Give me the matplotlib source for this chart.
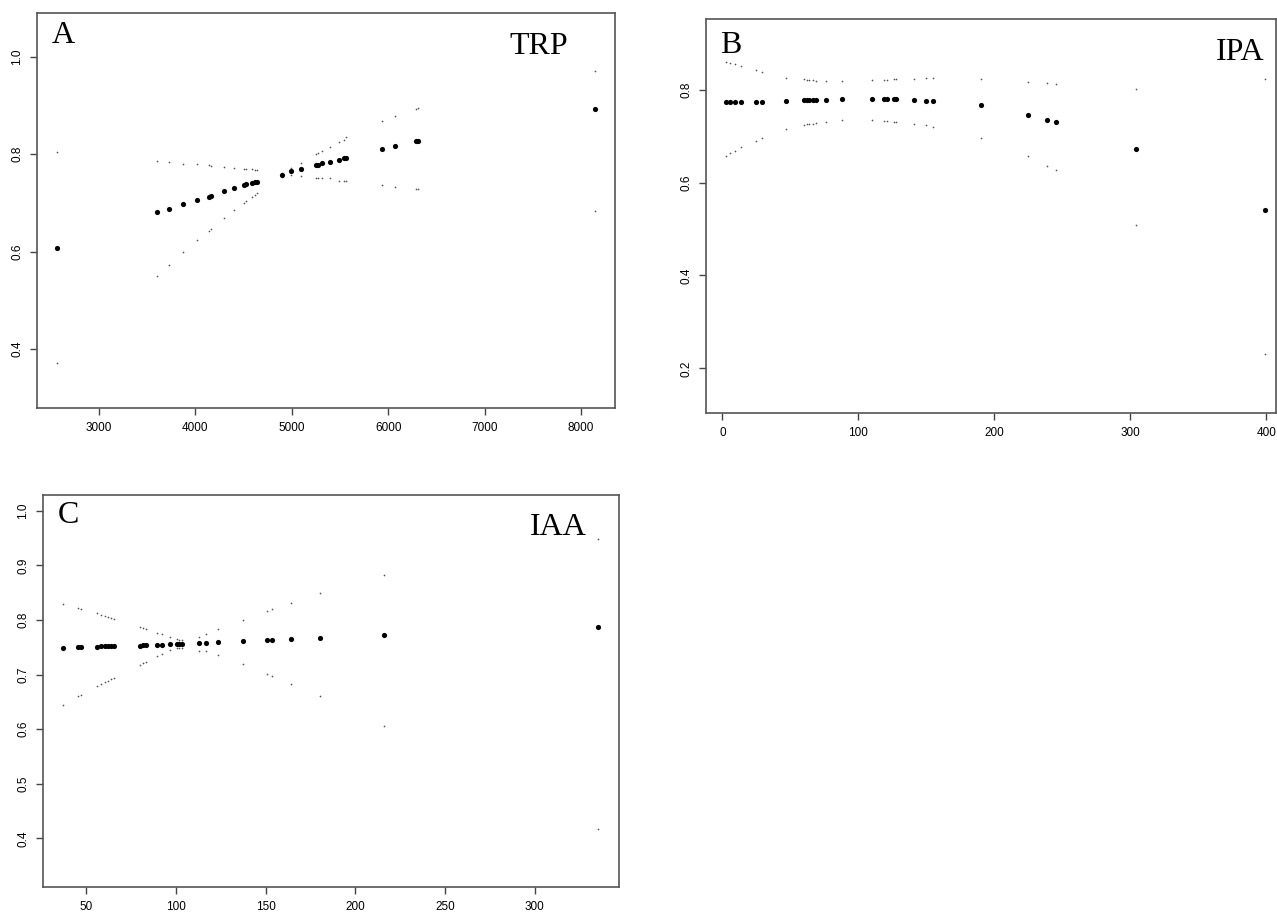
import matplotlib
matplotlib.use("Agg")
import matplotlib.pyplot as plt

# Panel A - TRP
trp_x = [2560, 3599, 3723, 3876, 4017, 4139, 4159, 4294, 4398, 4502, 4523, 4588, 4616, 4634,
         4896, 4993, 5097, 5249, 5267, 5314, 5391, 5485, 5537, 5557, 5934, 6069, 6287, 6305, 8143]
trp_mean = [0.608, 0.681, 0.688, 0.698, 0.707, 0.713, 0.715, 0.724, 0.730, 0.736, 0.738, 0.741, 0.743, 0.743,
            0.758, 0.765, 0.769, 0.777, 0.778, 0.781, 0.784, 0.789, 0.792, 0.792, 0.811, 0.817, 0.827, 0.827, 0.893]
trp_upper = [0.805, 0.786, 0.785, 0.780, 0.779, 0.777, 0.776, 0.774, 0.772, 0.770, 0.769, 0.769, 0.768, 0.768,
             0.762, 0.772, 0.781, 0.801, 0.803, 0.806, 0.815, 0.825, 0.830, 0.835, 0.869, 0.878, 0.893, 0.895, 0.971]
trp_lower = [0.371, 0.550, 0.573, 0.600, 0.623, 0.642, 0.646, 0.670, 0.685, 0.700, 0.704, 0.713, 0.717, 0.720,
             0.754, 0.757, 0.756, 0.752, 0.752, 0.751, 0.751, 0.746, 0.745, 0.745, 0.736, 0.732, 0.728, 0.728, 0.684]

# Panel B - IPA
ipa_x = [3, 6, 9, 14, 25, 29, 47, 60, 62, 64, 67, 69, 76, 88, 110, 119, 121, 126, 128, 141, 150, 155,
         190, 225, 239, 245, 304, 399]
ipa_mean = [0.773, 0.773, 0.773, 0.773, 0.774, 0.774, 0.775, 0.777, 0.777, 0.777, 0.777, 0.777, 0.777, 0.779,
            0.779, 0.779, 0.779, 0.779, 0.779, 0.777, 0.776, 0.775, 0.766, 0.746, 0.734, 0.730, 0.672, 0.540]
ipa_upper = [0.859, 0.857, 0.855, 0.851, 0.842, 0.839, 0.826, 0.822, 0.821, 0.821, 0.821, 0.819, 0.819, 0.819,
             0.821, 0.821, 0.821, 0.822, 0.822, 0.822, 0.824, 0.824, 0.822, 0.817, 0.814, 0.813, 0.802, 0.822]
ipa_lower = [0.658, 0.664, 0.667, 0.676, 0.690, 0.695, 0.715, 0.724, 0.725, 0.725, 0.727, 0.728, 0.731, 0.735,
             0.735, 0.733, 0.733, 0.731, 0.731, 0.727, 0.723, 0.720, 0.695, 0.658, 0.636, 0.628, 0.509, 0.230]

# Panel C - IAA
iaa_x = [37.3, 45.7, 47.4, 56.1, 58.4, 60.4, 62, 63.9, 65.4, 79.9, 81.6, 83.4, 89.6, 92.2, 96.6, 100.7,
         102, 103.5, 113.2, 116.9, 123.7, 137.5, 150.9, 153.7, 164.4, 180.2, 216.1, 335.4]
iaa_mean = [0.749, 0.750, 0.751, 0.751, 0.752, 0.752, 0.752, 0.752, 0.752, 0.753, 0.754, 0.754, 0.755, 0.755,
            0.756, 0.756, 0.756, 0.756, 0.758, 0.758, 0.760, 0.762, 0.764, 0.764, 0.766, 0.767, 0.772, 0.788]
iaa_upper = [0.829, 0.822, 0.821, 0.812, 0.810, 0.808, 0.806, 0.804, 0.802, 0.788, 0.786, 0.783, 0.777, 0.774,
             0.769, 0.765, 0.764, 0.763, 0.769, 0.774, 0.783, 0.800, 0.817, 0.821, 0.832, 0.849, 0.882, 0.949]
iaa_lower = [0.645, 0.660, 0.663, 0.679, 0.682, 0.686, 0.689, 0.692, 0.694, 0.717, 0.721, 0.724, 0.735, 0.738,
             0.745, 0.748, 0.748, 0.748, 0.744, 0.744, 0.736, 0.720, 0.702, 0.697, 0.683, 0.661, 0.606, 0.418]

plt.rcParams['font.family'] = ['Liberation Sans', 'DejaVu Sans']

W, H = 1277, 913
fig = plt.figure(figsize=(W / 100, H / 100), dpi=100)


def px_axes(left, top, right, bottom):
    return fig.add_axes([left / W, 1 - bottom / H, (right - left) / W, (bottom - top) / H])


def panel(ax, x, mean, upper, lower, xlim, ylim, xticks, yticks, letter, name, letter_y, name_x, name_y):
    ax.scatter(x, upper, s=1.5, color='#555555', linewidths=0)
    ax.scatter(x, lower, s=1.5, color='#555555', linewidths=0)
    ax.scatter(x, mean, s=14, color='black', linewidths=0)
    ax.set_xlim(*xlim)
    ax.set_ylim(*ylim)
    ax.set_xticks(xticks)
    ax.set_yticks(yticks)
    ax.set_xticklabels([str(t) for t in xticks])
    ax.set_yticklabels([f'{t:.1f}' for t in yticks], rotation=90, va='center')
    ax.tick_params(direction='out', length=5, width=1, color='#444444', labelsize=8.5, pad=5)
    for s in ax.spines.values():
        s.set_color('#555555')
        s.set_linewidth(1.2)
    ax.text(0.025, letter_y, letter, transform=ax.transAxes, family='Liberation Serif',
            fontsize=23, va='baseline', ha='left')
    ax.text(name_x, name_y, name, transform=ax.transAxes, family='Liberation Serif',
            fontsize=23, va='baseline', ha='right')


ax_a = px_axes(37, 13, 615, 408)
panel(ax_a, trp_x, trp_mean, trp_upper, trp_lower, (2357, 8352), (0.279, 1.09),
      [3000, 4000, 5000, 6000, 7000, 8000], [0.4, 0.6, 0.8, 1.0], 'A', 'TRP', 0.924, 0.919, 0.896)

ax_b = px_axes(706, 19, 1276, 413)
panel(ax_b, ipa_x, ipa_mean, ipa_upper, ipa_lower, (-12, 407), (0.104, 0.952),
      [0, 100, 200, 300, 400], [0.2, 0.4, 0.6, 0.8], 'B', 'IPA', 0.914, 0.979, 0.897)

ax_c = px_axes(43, 495, 619, 887)
panel(ax_c, iaa_x, iaa_mean, iaa_upper, iaa_lower, (26, 347), (0.311, 1.029),
      [50, 100, 150, 200, 250, 300], [0.4, 0.5, 0.6, 0.7, 0.8, 0.9, 1.0], 'C', 'IAA', 0.928, 0.944, 0.898)

fig.savefig('out.png', dpi=100)
